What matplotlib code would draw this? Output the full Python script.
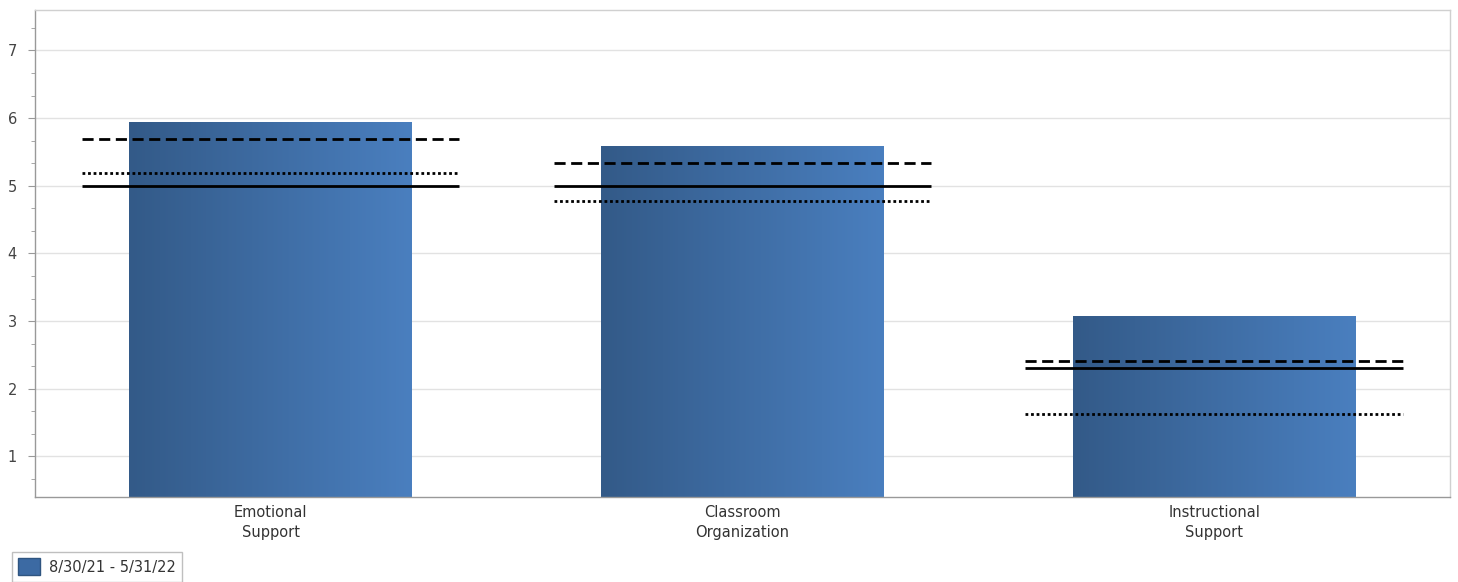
import matplotlib
matplotlib.use("Agg")
import matplotlib.pyplot as plt
import numpy as np
from matplotlib.colors import LinearSegmentedColormap
from matplotlib.patches import Patch
from matplotlib.ticker import FixedLocator, MultipleLocator

categories = ["Emotional\nSupport", "Classroom\nOrganization", "Instructional\nSupport"]
scores = [5.94, 5.59, 3.07]
dashed_ref = [5.69, 5.34, 2.41]
dotted_ref = [5.19, 4.78, 1.63]
solid_ref = [5.00, 5.00, 2.31]
period_label = "8/30/21 - 5/31/22"

bar_cmap = LinearSegmentedColormap.from_list("bar", ["#335a88", "#4a7fbf"])

fig = plt.figure(figsize=(14.58, 5.82), dpi=100)
ax = fig.add_axes([0.024, 0.146, 0.9705, 0.837])

x = np.arange(len(categories))
bars = ax.bar(x, scores, width=0.6, color="none", zorder=2)

# horizontal gradient inside each bar
grad = np.linspace(0, 1, 256).reshape(1, -1)
for b in bars:
    x0, y0 = b.get_x(), 0.4
    im = ax.imshow(grad, cmap=bar_cmap, aspect="auto", zorder=2,
                   extent=(x0, x0 + b.get_width(), y0, b.get_height()))
    im.set_clip_path(b)

half = 0.4
ax.hlines(dashed_ref, x - half, x + half, colors="black", linewidth=2.0,
          linestyles=(0, (4, 2)), zorder=3)
ax.hlines(dotted_ref, x - half, x + half, colors="black", linewidth=2.0,
          linestyles=(0, (1, 1)), zorder=3)
ax.hlines(solid_ref, x - half, x + half, colors="black", linewidth=2.0, zorder=3)

ax.set_xlim(-0.5, 2.5)
ax.set_ylim(0.4, 7.6)
ax.set_xticks(x)
ax.set_xticklabels(categories, fontsize=10.5, color="#333333", linespacing=1.35)
ax.tick_params(axis="x", length=0, pad=6)
ax.yaxis.set_major_locator(MultipleLocator(1))
minor = [v / 3 for v in range(2, 23) if v % 3 != 0]
ax.yaxis.set_minor_locator(FixedLocator(minor))
ax.tick_params(axis="y", which="major", length=5, color="#999999",
               labelsize=10.5, labelcolor="#444444", pad=8)
ax.tick_params(axis="y", which="minor", length=3, color="#999999")
ax.grid(axis="y", which="major", color="#e2e2e2", linewidth=1, zorder=0)
ax.set_axisbelow(True)
for side, sp in ax.spines.items():
    sp.set_color("#999999" if side in ("left", "bottom") else "#d0d0d0")
    sp.set_linewidth(1)

handle = Patch(facecolor="#3c6aa3", edgecolor="#2f5580")
fig.legend([handle], [period_label], loc="lower left",
           bbox_to_anchor=(0.003, -0.012), fontsize=10.5, frameon=True,
           fancybox=False, edgecolor="#b0b0b0", handlelength=1.5,
           handleheight=1.4, borderpad=0.45, handletextpad=0.6,
           labelcolor="#333333")

fig.savefig("out.png", dpi=100)
